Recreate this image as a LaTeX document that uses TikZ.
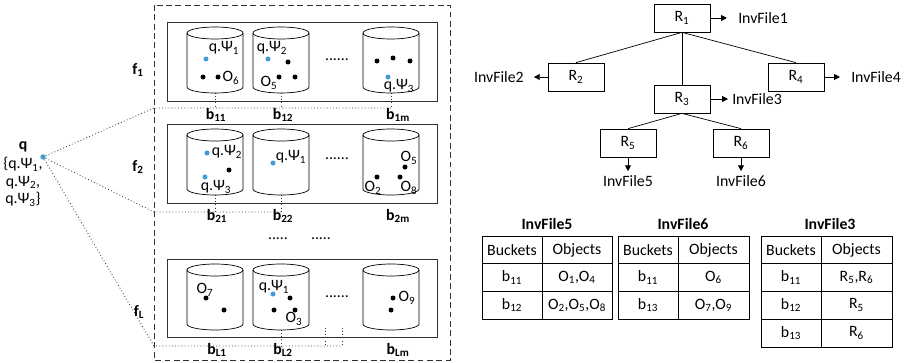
\documentclass[tikz,border=0pt]{standalone}
\usepackage{fontspec}
\setmainfont{Carlito}
\usepackage{tikz}
\usetikzlibrary{arrows.meta}

\definecolor{qblue}{RGB}{65,155,215}
\definecolor{edge}{RGB}{50,50,50}

\tikzset{
  bucket/.pic={
    \draw (-28,0) -- (-28,54) arc[start angle=180,end angle=360,x radius=0.84cm,y radius=0.18cm] -- (28,0);
    \draw (0,0) ellipse [x radius=0.84cm,y radius=0.18cm];
  },
  qpt/.style={circle,fill=qblue,inner sep=0pt,minimum size=4.6pt},
  bold/.style={font=\fontsize{13.5}{15}\selectfont\bfseries},
  link/.style={dotted,line width=0.7pt,edge},
  rbox/.style={draw,minimum width=1.68cm,minimum height=0.84cm},
  arr/.style={-{Triangle[length=5pt,width=5pt]}},
}

\newcommand{\obj}[2]{\fill (#1,#2) circle[radius=0.075cm];}
\newcommand{\qobj}[2]{\fill[qblue] (#1,#2) circle[radius=0.075cm];}

\begin{document}
\begin{tikzpicture}[x=0.03cm,y=-0.03cm,font=\fontsize{13.5}{15}\selectfont,line width=0.6pt]
\useasboundingbox (0,0) rectangle (913,363);

% feature blocks
\draw[edge,dash pattern=on 5pt off 3pt] (154,5) rectangle (450,360);
\draw[edge] (167,22) rectangle (437,101);
\draw[edge] (167,124) rectangle (437,203);
\draw[edge] (167,259) rectangle (437,337);
\foreach \y in {33,135,270}
  \foreach \x in {215,281,391}
    \pic at (\x,\y) {bucket};

% query
\node[qpt] (qdot) at (43,157) {};
\node[bold] (qname) at (23,147) {q};
\node[align=center,font=\fontsize{13.5}{15}\selectfont] (qset) at (23,182) {\{q.Ψ\textsubscript{1},\\q.Ψ\textsubscript{2},\\q.Ψ\textsubscript{3}\}};

\coordinate (e1) at (154,108);
\coordinate (e2) at (154,212);
\coordinate (e3) at (154,346);
\draw[link] (qdot) -- (e1) -- (391,108);
\draw[link] (qdot) -- (e2) -- (281,212);
\draw[link] (qdot) -- (e3) -- (342,346);
\foreach \x in {215,281,391} \draw[link] (\x,93) -- (\x,108);
\foreach \x in {215,281} \draw[link] (\x,195) -- (\x,212);
\draw[link] (281,330) -- (281,346);
\foreach \x in {325,342} \draw[link] (\x,328) -- (\x,346);

\node[bold] (f1) at (138,70) {f\textsubscript{1}};
\node[bold] (f2) at (138,167) {f\textsubscript{2}};
\node[bold] (fL) at (139,312) {f\textsubscript{L}};

\node[bold] (b11) at (216,115) {b\textsubscript{11}};
\node[bold] (b12) at (283,115) {b\textsubscript{12}};
\node[bold] (b1m) at (398,115) {b\textsubscript{1m}};
\node[bold] (b21) at (217,216) {b\textsubscript{21}};
\node[bold] (b22) at (283,216) {b\textsubscript{22}};
\node[bold] (b2m) at (398,216) {b\textsubscript{2m}};
\node[bold] (bL1) at (217,350) {b\textsubscript{L1}};
\node[bold] (bL2) at (283,350) {b\textsubscript{L2}};
\node[bold] (bLm) at (398,350) {b\textsubscript{Lm}};

\node (dots1) at (337,60) {......};
\node (dots2) at (337,159) {......};
\node (dots3) at (337,297) {......};
\node (dots4) at (278,239) {.....};
\node (dots5) at (321,239) {.....};

% block f1
\node (p11) at (224,48) {q.Ψ\textsubscript{1}};
\qobj{206}{59} \obj{203}{77} \obj{218}{77}
\node (p12) at (231,78) {O\textsubscript{6}};
\node (p13) at (272,48) {q.Ψ\textsubscript{2}};
\qobj{268}{59} \obj{288}{62} \obj{279}{77} \obj{295}{77}
\node (p14) at (269,83) {O\textsubscript{5}};
\obj{377}{61} \obj{393}{58} \obj{410}{61} \qobj{388}{77}
\node (p15) at (399,86) {q.Ψ\textsubscript{3}};

% block f2
\qobj{207}{153}
\node (p21) at (227,152) {q.Ψ\textsubscript{2}};
\obj{229}{170} \qobj{205}{177}
\node (p22) at (216,187) {q.Ψ\textsubscript{3}};
\qobj{273}{163}
\node (p23) at (291,157) {q.Ψ\textsubscript{1}};
\node (p24) at (409,158) {O\textsubscript{5}};
\obj{405}{167} \obj{377}{177} \obj{400}{177}
\node (p25) at (373,188) {O\textsubscript{2}};
\node (p26) at (409,188) {O\textsubscript{8}};

% block fL
\node (p31) at (205,290) {O\textsubscript{7}};
\obj{206}{298} \obj{224}{310}
\node (p32) at (274,287) {q.Ψ\textsubscript{1}};
\qobj{273}{294} \obj{290}{298} \obj{274}{310} \obj{295}{310}
\node (p33) at (294,319) {O\textsubscript{3}};
\obj{393}{298} \obj{391}{310}
\node (p34) at (407,298) {O\textsubscript{9}};

% tree
\node[rbox] (r1) at (682,18) {R\textsubscript{1}};
\node[rbox] (r2) at (576,77) {R\textsubscript{2}};
\node[rbox] (r4) at (796,77) {R\textsubscript{4}};
\node[rbox] (r3) at (682,99) {R\textsubscript{3}};
\node[rbox] (r5) at (628,143) {R\textsubscript{5}};
\node[rbox] (r6) at (741,143) {R\textsubscript{6}};
\draw (r1.south) -- (r2.north);
\draw (r1.south) -- (r3.north);
\draw (r1.south) -- (r4.north);
\draw (r3.south) -- (r5.north);
\draw (r3.south) -- (r6.north);

\node[anchor=west] (inv1) at (734,18) {InvFile1};
\node[anchor=east] (inv2) at (528,77) {InvFile2};
\node[anchor=west] (inv4) at (847,77) {InvFile4};
\node[anchor=west] (inv3) at (728,99) {InvFile3};
\node (inv5) at (628,181) {InvFile5};
\node (inv6) at (741,181) {InvFile6};
\draw[arr,shorten >=6pt] (r1) -- (inv1);
\draw[arr,shorten >=5pt] (r2) -- (inv2);
\draw[arr,shorten >=6pt] (r4) -- (inv4);
\draw[arr] (r3) -- (inv3);
\draw[arr] (r5) -- (inv5);
\draw[arr] (r6) -- (inv6);

% inverted files
\node[bold] (t5) at (547,224) {InvFile5};
\draw (482,236) rectangle (612,319);
\draw (542,236) -- (542,319);
\foreach \y in {263.7,291.4} \draw (482,\y) -- (612,\y);
\node (t5h1) at (512,250) {Buckets};
\node (t5h2) at (577,250) {Objects};
\node (t5a1) at (512,277.5) {b\textsubscript{11}};
\node (t5a2) at (577,277.5) {O\textsubscript{1},O\textsubscript{4}};
\node (t5b1) at (512,305.2) {b\textsubscript{12}};
\node (t5b2) at (577,305.2) {O\textsubscript{2},O\textsubscript{5},O\textsubscript{8}};

\node[bold] (t6) at (683,224) {InvFile6};
\draw (618,236) rectangle (749,319);
\draw (678,236) -- (678,319);
\foreach \y in {263.7,291.4} \draw (618,\y) -- (749,\y);
\node (t6h1) at (648,250) {Buckets};
\node (t6h2) at (713.5,250) {Objects};
\node (t6a1) at (648,277.5) {b\textsubscript{11}};
\node (t6a2) at (713.5,277.5) {O\textsubscript{6}};
\node (t6b1) at (648,305.2) {b\textsubscript{13}};
\node (t6b2) at (713.5,305.2) {O\textsubscript{7},O\textsubscript{9}};

\node[bold] (t3) at (830,224) {InvFile3};
\draw (761,236) rectangle (892,347);
\draw (821,236) -- (821,347);
\foreach \y in {263.7,291.4,319.1} \draw (761,\y) -- (892,\y);
\node (t3h1) at (791,250) {Buckets};
\node (t3h2) at (856.5,250) {Objects};
\node (t3a1) at (791,277.5) {b\textsubscript{11}};
\node (t3a2) at (856.5,277.5) {R\textsubscript{5},R\textsubscript{6}};
\node (t3b1) at (791,305.2) {b\textsubscript{12}};
\node (t3b2) at (856.5,305.2) {R\textsubscript{5}};
\node (t3c1) at (791,333) {b\textsubscript{13}};
\node (t3c2) at (856.5,333) {R\textsubscript{6}};
\end{tikzpicture}
\end{document}
